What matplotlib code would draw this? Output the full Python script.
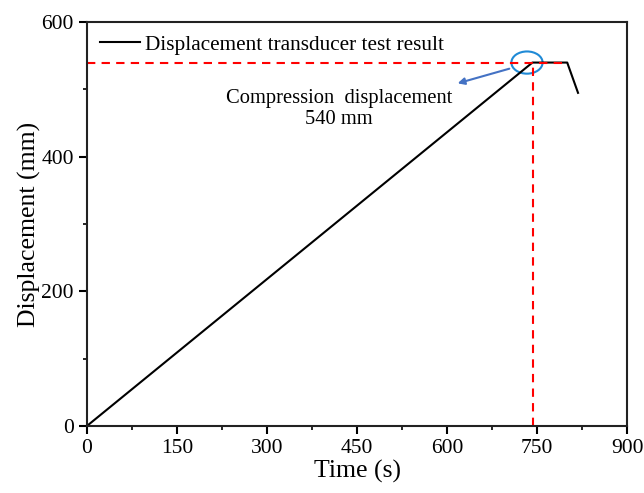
import matplotlib.pyplot as plt
from matplotlib.patches import Ellipse
from matplotlib.ticker import MultipleLocator

plt.rcParams['font.family'] = ['Liberation Serif', 'DejaVu Serif']

# measured displacement curve
time_s = [0, 742, 800, 818]
disp_mm = [0, 540, 540, 495]

peak_time = 743
peak_disp = 540
guide_end = 800

fig = plt.figure(figsize=(6.44, 4.93), dpi=100)
ax = fig.add_axes([0.135, 0.136, 0.839, 0.819])

ax.plot(time_s, disp_mm, color='black', lw=1.5, label='Displacement transducer test result')
ax.plot([0, guide_end], [peak_disp, peak_disp], color='red', ls=(0, (4, 3)), lw=1.5)
ax.plot([peak_time, peak_time], [0, peak_disp], color='red', ls=(0, (4, 3)), lw=1.5)

ax.add_patch(Ellipse((733, 540), 52, 33, fill=False, edgecolor='#1f8ad6', lw=1.5))
ax.annotate('', xy=(613, 508), xytext=(708, 532),
            arrowprops=dict(arrowstyle='-|>', color='#4472c4', lw=1.5, mutation_scale=10))
ax.text(420, 471, 'Compression  displacement\n540 mm', ha='center', va='center',
        fontsize=14.8, linespacing=1.2)

ax.set_xlim(0, 900)
ax.set_ylim(0, 600)
ax.xaxis.set_major_locator(MultipleLocator(150))
ax.xaxis.set_minor_locator(MultipleLocator(75))
ax.yaxis.set_major_locator(MultipleLocator(200))
ax.yaxis.set_minor_locator(MultipleLocator(100))
ax.tick_params(which='major', direction='out', length=6, width=1.5, labelsize=15.5)
ax.tick_params(which='minor', direction='out', length=3, width=1.2)
for s in ax.spines.values():
    s.set_linewidth(1.5)
    s.set_color('#222222')

ax.set_xlabel('Time (s)', fontsize=18.5, labelpad=1)
ax.set_ylabel('Displacement (mm)', fontsize=18.5, labelpad=0)

ax.legend(loc='upper left', frameon=False, fontsize=15.3, handlelength=1.9,
          borderaxespad=0.2, handletextpad=0.25)

fig.savefig('out.png', dpi=100)
